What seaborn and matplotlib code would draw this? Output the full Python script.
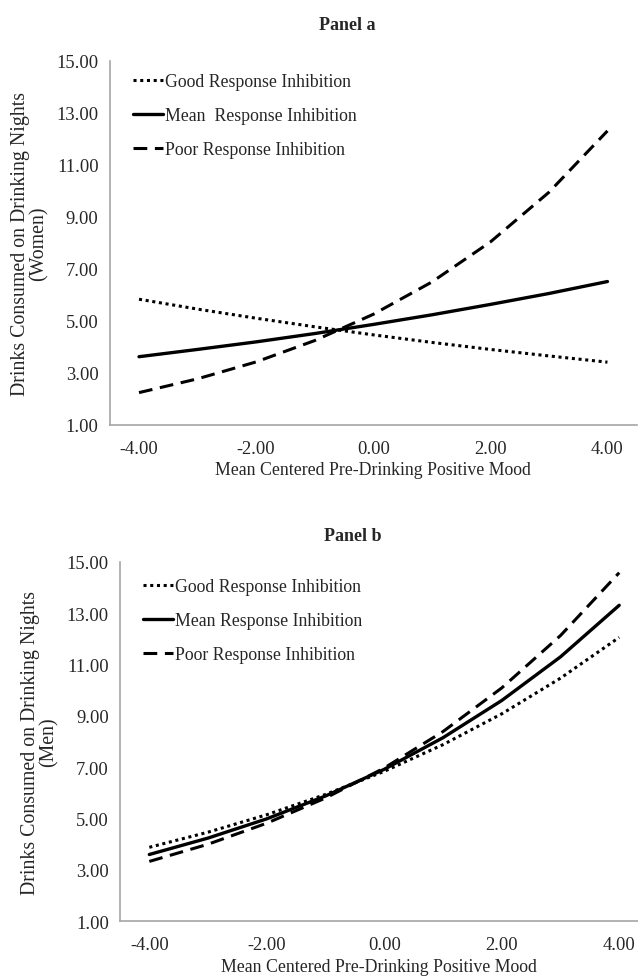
import pandas as pd
import matplotlib
matplotlib.use('Agg')
import matplotlib.pyplot as plt
import seaborn as sns

# valores
mood = [-4, -3, -2, -1, 0, 1, 2, 3, 4]

women_good = [5.83, 5.45, 5.10, 4.77, 4.46, 4.17, 3.90, 3.65, 3.41]
women_mean = [3.62, 3.90, 4.19, 4.51, 4.86, 5.23, 5.63, 6.05, 6.51]
women_poor = [2.24, 2.77, 3.42, 4.24, 5.25, 6.49, 8.03, 9.94, 12.30]

men_good = [3.88, 4.47, 5.15, 5.94, 6.84, 7.88, 9.08, 10.47, 12.06]
men_mean = [3.60, 4.24, 4.99, 5.88, 6.92, 8.15, 9.60, 11.30, 13.31]
men_poor = [3.33, 4.00, 4.82, 5.80, 6.97, 8.39, 10.09, 12.13, 14.58]

labels_a = ['Good Response Inhibition', 'Mean  Response Inhibition', 'Poor Response Inhibition']
labels_b = ['Good Response Inhibition', 'Mean Response Inhibition', 'Poor Response Inhibition']
y_ticks = [1, 3, 5, 7, 9, 11, 13, 15]
x_ticks = [-4, -2, 0, 2, 4]

sns.set_style('white')
plt.rcParams['font.family'] = ['Liberation Serif', 'DejaVu Serif']

fig = plt.figure(figsize=(6.38, 9.79), dpi=100)
ax_a = fig.add_axes([0.172, 0.565, 0.826, 0.372])
ax_b = fig.add_axes([0.188, 0.058, 0.812, 0.367])

estilos = [(0, (1, 1.2)), '-', (0, (4.5, 2.5))]
larguras = [2.2, 2.4, 2.2]


def desenhar(ax, series, labels, genero, titulo, xmax, pad_titulo, leg_y):
    for vals, lab, ls, lw in zip(series, labels, estilos, larguras):
        sns.lineplot(x=mood, y=vals, ax=ax, color='black', linestyle=ls, linewidth=lw, label=lab)
    ax.set_xlim(-4.5, xmax)
    ax.set_ylim(1, 15)
    ax.set_yticks(y_ticks)
    ax.set_yticklabels([f"{v:.2f}" for v in y_ticks])
    ax.set_xticks(x_ticks)
    ax.set_xticklabels([f"{v:.2f}" for v in x_ticks])
    for s in ['top', 'right']:
        ax.spines[s].set_visible(False)
    for s in ['left', 'bottom']:
        ax.spines[s].set_color('#a6a6a6')
        ax.spines[s].set_linewidth(1.2)
    ax.tick_params(axis='y', direction='out', length=5, color='#a6a6a6', width=1.2, labelsize=13.3, pad=3)
    ax.tick_params(axis='x', length=0, labelsize=13.3, pad=11)
    ax.set_xlabel('Mean Centered Pre-Drinking Positive Mood', fontsize=12.8, labelpad=3)
    ax.set_ylabel(f'Drinks Consumed on Drinking Nights\n({genero})', fontsize=14.3, labelpad=6, linespacing=0.95)
    ax.set_title(titulo, fontsize=13, fontweight='bold', pad=pad_titulo, x=0.45)
    for line in ax.get_lines():
        line.set_dash_capstyle('butt')
    leg = ax.legend(loc='upper left', frameon=False, fontsize=12.8, handlelength=1.7,
                    handletextpad=0.1, labelspacing=0.95, borderaxespad=0.0,
                    bbox_to_anchor=(0.03, leg_y))
    return leg


desenhar(ax_a, [women_good, women_mean, women_poor], labels_a, 'Women', 'Panel a', 4.5, 23, 0.985)
desenhar(ax_b, [men_good, men_mean, men_poor], labels_b, 'Men', 'Panel b', 4.32, 16, 0.975)

fig.savefig('out.png', dpi=100)
